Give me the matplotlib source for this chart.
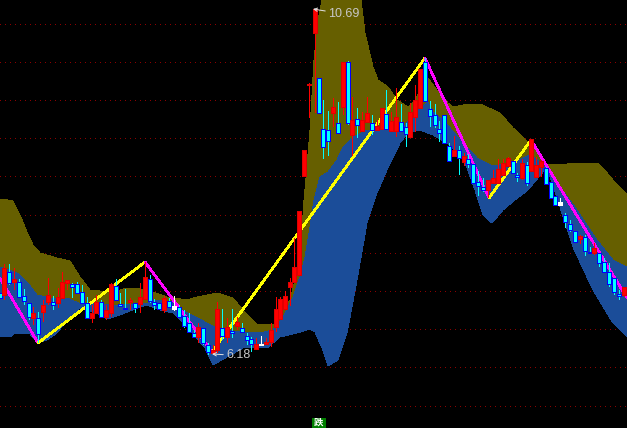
import matplotlib
matplotlib.use('Agg')
import matplotlib.pyplot as plt
from matplotlib.patches import Rectangle

# Price grid levels
grid_y = [23.5, 62, 100, 138, 176, 215, 253, 291, 329, 367, 406]

# Band edges
upper_x = [0, 8, 13, 20, 27, 33, 40, 57, 70, 80, 90, 100, 117, 127, 140, 150, 167, 187, 197, 217, 233, 243, 257, 273, 280, 290, 299, 302, 304, 307, 310, 314, 318, 322, 335, 350, 361, 365, 369, 373, 378, 388, 397, 408, 415, 420, 425, 428, 437, 448, 453, 463, 480, 500, 513, 528, 547, 567, 597, 603, 613, 627]
upper_y = [199, 200, 201, 215, 232, 245, 253, 258, 261, 277, 290, 291, 291, 288, 289, 291, 297, 300, 297, 293, 298, 310, 324, 325, 318, 300, 265, 230, 200, 167, 130, 60, 20, 0, -30, -30, 0, 33, 50, 67, 80, 87, 100, 107, 100, 90, 80, 78, 90, 103, 107, 105, 104, 113, 128, 142, 165, 164, 163, 168, 180, 195]
mid_x = [0, 17, 27, 37, 50, 67, 83, 90, 110, 118, 148, 155, 172, 182, 205, 220, 243, 260, 273, 283, 293, 300, 305, 310, 314, 320, 328, 337, 343, 353, 367, 387, 405, 420, 428, 433, 445, 463, 477, 493, 513, 530, 547, 560, 577, 597, 613, 627]
mid_y = [267, 273, 282, 295, 298, 298, 305, 303, 305, 305, 303, 300, 302, 310, 322, 330, 332, 333, 330, 318, 297, 277, 257, 227, 200, 177, 172, 160, 147, 137, 130, 130, 125, 108, 102, 112, 122, 143, 158, 166, 163, 155, 167, 187, 210, 240, 260, 267]
lower_x = [0, 10, 15, 30, 38, 47, 57, 67, 80, 97, 107, 120, 137, 147, 160, 173, 188, 205, 213, 227, 243, 267, 280, 297, 310, 315, 322, 328, 338, 347, 357, 367, 377, 387, 400, 408, 420, 433, 447, 463, 475, 483, 492, 503, 515, 528, 547, 560, 573, 593, 613, 627]
lower_y = [337, 337, 333, 334, 343, 340, 333, 320, 308, 313, 319, 315, 308, 305, 310, 313, 328, 348, 365, 357, 348, 348, 337, 333, 329, 332, 348, 366, 360, 333, 280, 223, 193, 170, 143, 133, 130, 135, 143, 157, 190, 215, 223, 210, 200, 190, 167, 207, 247, 290, 323, 337]

# Zigzag turning points
zig_x = [0, 38, 145, 212, 425, 489, 531, 627]
zig_y = [278, 343, 262, 352, 58, 198, 140, 298]

# Candles, r = up, c = down, w = doji
candle_x = [0, 4, 9, 14, 19, 24, 29, 33, 38, 43, 48, 53, 58, 62, 67, 72, 77, 82, 87, 92,
            96, 101, 106, 111, 116, 120, 125, 130, 135, 140, 145, 150, 154, 159, 164, 169, 174, 179, 184, 189,
            194, 198, 203, 208, 213, 217, 222, 227, 232, 237, 242, 247, 251, 256, 261, 266, 271, 276, 280, 285,
            290, 294, 299, 304, 309, 315, 319, 323, 328, 333, 338, 343, 348, 352, 357, 362, 367, 372, 377, 382,
            386, 391, 396, 401, 406, 410, 415, 420, 425, 430, 435, 439, 444, 449, 454, 459, 464, 468, 473, 478,
            483, 488, 493, 498, 503, 508, 513, 517, 522, 527, 531, 536, 541, 546, 551, 555, 560, 565, 570, 575,
            580, 585, 590, 594, 599, 604, 609, 614, 619, 624]
candle_kind = ("crcrcccrcrrcrrrccccr"
               "rcrrcccrcrrcccrcwccc"
               "crccrrcrcrcccrwrrrrr"
               "rrrrrrcccrcrcrcrrcrr"
               "crrccrrrccccccrcrccc"
               "crrrrrccrcrrrcccwccc"
               "rccrcccccr")
candle_top = [293, 268, 272, 279, 282, 296, 303, 313, 318, 305, 295, 302, 297, 282, 280, 284, 284, 292, 303, 313,
              302, 302, 310, 284, 286, 304, 308, 300, 303, 297, 277, 279, 302, 303, 298, 301, 306, 307, 316, 323,
              333, 327, 328, 345, 350, 309, 328, 327, 331, 322, 328, 336, 339, 344, 344, 342, 330, 309, 299, 296,
              282, 267, 211, 150, 84, 9, 78, 129, 130, 107, 123, 62, 62, 120, 119, 120, 113, 123, 126, 108,
              114, 121, 117, 122, 127, 112, 100, 69, 62, 109, 115, 129, 115, 146, 150, 150, 156, 159, 164, 182,
              187, 180, 178, 169, 163, 158, 161, 175, 163, 165, 139, 165, 161, 168, 182, 196, 202, 215, 224, 231,
              236, 237, 252, 248, 253, 262, 272, 278, 294, 287]
candle_bottom = [298, 295, 283, 282, 297, 301, 317, 318, 334, 312, 302, 305, 303, 298, 283, 287, 293, 303, 318, 318,
                 313, 317, 317, 313, 300, 306, 309, 302, 308, 304, 299, 301, 305, 309, 310, 307, 309, 317, 326, 332,
                 337, 337, 343, 352, 353, 350, 336, 337, 333, 326, 332, 340, 344, 349, 345, 344, 342, 327, 319, 309,
                 287, 282, 275, 176, 85, 33, 113, 147, 141, 113, 133, 107, 123, 135, 125, 131, 122, 130, 130, 129,
                 129, 131, 131, 131, 134, 137, 117, 108, 101, 116, 125, 133, 143, 161, 156, 158, 162, 164, 183, 186,
                 190, 190, 183, 183, 175, 166, 173, 177, 178, 183, 171, 177, 167, 184, 198, 205, 205, 222, 230, 242,
                 239, 251, 253, 253, 263, 272, 284, 292, 296, 295]
candle_high = [293, 264, 264, 268, 279, 289, 303, 307, 312, 300, 278, 296, 288, 272, 280, 283, 282, 285, 297, 305,
               295, 300, 305, 283, 279, 293, 289, 298, 303, 283, 262, 275, 299, 303, 296, 298, 296, 305, 310, 313,
               330, 323, 328, 343, 345, 302, 309, 318, 309, 317, 323, 333, 337, 338, 336, 338, 323, 297, 297, 291,
               278, 238, 211, 150, 83, 9, 78, 100, 111, 98, 102, 62, 61, 97, 108, 112, 97, 115, 120, 108,
               90, 112, 88, 104, 123, 103, 85, 69, 58, 101, 104, 121, 115, 143, 136, 146, 153, 154, 164, 171,
               178, 180, 170, 159, 159, 157, 161, 173, 159, 162, 139, 157, 160, 167, 182, 196, 198, 213, 220, 231,
               235, 235, 247, 243, 253, 258, 263, 278, 290, 287]
candle_low = [298, 300, 285, 290, 297, 305, 320, 325, 343, 322, 305, 310, 308, 298, 290, 298, 293, 304, 318, 323,
              313, 318, 320, 317, 300, 307, 310, 310, 313, 313, 300, 303, 310, 310, 313, 308, 311, 318, 328, 333,
              338, 343, 345, 355, 355, 353, 340, 343, 338, 330, 333, 345, 352, 350, 345, 345, 347, 332, 320, 309,
              306, 283, 275, 176, 118, 113, 113, 159, 156, 127, 133, 115, 125, 156, 138, 131, 122, 135, 130, 129,
              130, 132, 137, 132, 147, 137, 132, 108, 102, 127, 128, 142, 144, 162, 157, 175, 166, 168, 183, 196,
              192, 198, 183, 183, 176, 166, 174, 182, 180, 186, 171, 177, 177, 184, 198, 206, 206, 228, 232, 243,
              244, 256, 254, 255, 267, 272, 287, 295, 300, 297]

# Extreme price labels
peak_label = "10.69"
trough_label = "6.18"

plt.rcParams['font.family'] = ['Liberation Sans', 'Noto Sans CJK SC', 'DejaVu Sans']

fig = plt.figure(figsize=(6.27, 4.28), dpi=100, facecolor='black')
ax = fig.add_axes([0, 0, 1, 1], facecolor='black')
ax.set_xlim(0, 627)
ax.set_ylim(428, 0)
for side in ax.spines.values():
    side.set_visible(False)

# Dotted levels
ax.set_yticks(grid_y)
ax.set_xticks([])
ax.tick_params(left=False, labelleft=False)
ax.grid(axis='y', color='#8c0000', linewidth=0.72, linestyle=(0, (1, 5)), antialiased=False)
ax.set_axisbelow(True)

# Olive and blue bands
ax.fill(upper_x + mid_x[::-1], upper_y + mid_y[::-1], color='#665f00', linewidth=0, antialiased=False, zorder=2)
ax.fill(mid_x + lower_x[::-1], mid_y + lower_y[::-1], color='#1b4d99', linewidth=0, antialiased=False, zorder=2)

# Zigzag
for i in range(len(zig_x) - 1):
    leg_color = '#ffff00' if zig_y[i + 1] < zig_y[i] else '#ff00ff'
    ax.plot(zig_x[i:i + 2], zig_y[i:i + 2], color=leg_color, linewidth=1.2, antialiased=False,
            solid_capstyle='round', zorder=3)

# Candles, the wick is a one pixel bar so it stays visible without antialiasing
for i in range(len(candle_x)):
    kind = candle_kind[i]
    if kind == 'r':
        wick, body, edge = '#ff0000', '#ff0000', '#e00000'
    elif kind == 'c':
        wick, body, edge = '#00ffff', '#00ffff', '#0000ff'
    else:
        wick, body, edge = '#ffffff', '#ffffff', '#ffffff'
    ax.bar(candle_x[i], candle_low[i] - candle_high[i], bottom=candle_high[i], width=1, color=wick,
           linewidth=0, antialiased=False, zorder=4)
    ax.bar(candle_x[i], candle_bottom[i] - candle_top[i], bottom=candle_top[i], width=4.6, color=body,
           edgecolor=edge, linewidth=0.72, antialiased=False, zorder=4)

# Price labels with arrows
ax.annotate(peak_label, xy=(313, 9), xytext=(328, 14), color='#c8c8c8', fontsize=9, va='center', ha='left', zorder=5,
            arrowprops=dict(arrowstyle='->', color='#e0e0e0', linewidth=0.72, shrinkA=0, shrinkB=0, mutation_scale=6))
ax.annotate(trough_label, xy=(212, 354), xytext=(226, 355.5), color='#c8c8c8', fontsize=9, va='center', ha='left', zorder=5,
            arrowprops=dict(arrowstyle='->', color='#e0e0e0', linewidth=0.72, shrinkA=0, shrinkB=0, mutation_scale=6))

# Green signal box at the bottom edge
ax.add_patch(Rectangle((312, 418), 14, 10, facecolor='#007f00', edgecolor='none', zorder=5))
ax.text(319, 422.7, '跌', color='white', fontsize=6.8, fontweight='bold', ha='center', va='center', zorder=6)

plt.savefig('out.png', dpi=100, facecolor='black')
